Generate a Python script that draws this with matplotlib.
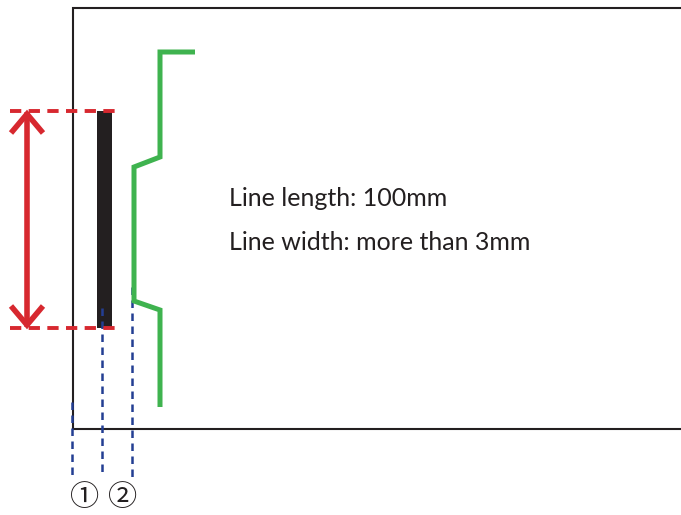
import matplotlib
matplotlib.use("Agg")
import matplotlib.pyplot as plt

# diagram geometry (pixel coordinates of the 681x515 canvas, y downwards)
frame_x = [681, 73, 73, 681]
frame_y = [8, 8, 429, 429]

bar_left, bar_right = 97, 112
bar_top, bar_bottom = 111, 328

green_x = [195, 160, 160, 134, 134, 160, 160]
green_y = [52, 52, 157, 167, 301, 310, 407]

guide_x = [72, 102, 132]
guide_top = [402, 308, 287]
guide_bottom = 477

arrow_x = 27
labels = ["Line length: 100mm", "Line width: more than 3mm"]
markers = ["①", "②"]
marker_x = [85, 123]

RED = "#d7282f"
GREEN = "#3fb34f"
BLUE = "#233e93"
BLACK = "#231f20"

fig = plt.figure(figsize=(6.81, 5.15), dpi=100)
ax = fig.add_axes([0, 0, 1, 1])
ax.set_xlim(0, 681)
ax.set_ylim(515, 0)
ax.axis("off")

# frame (top, left, bottom edges)
ax.plot(frame_x, frame_y, color="#231f20", lw=1.5, solid_joinstyle="miter")

# blue dashed guides
for gx, gt in zip(guide_x, guide_top):
    ax.plot([gx, gx], [gt, guide_bottom], color=BLUE, lw=1.8, dashes=(3.0, 2.2))

# black bar
ax.bar(bar_left, bar_bottom - bar_top, width=bar_right - bar_left,
       bottom=bar_top, align="edge", color=BLACK)

# red dashed reference lines
for ry in [bar_top, bar_bottom]:
    ax.plot([10, 115], [ry, ry], color=RED, lw=2.8, dashes=(2.9, 1.9))

# red double arrow
ax.plot([arrow_x, arrow_x], [bar_top + 4, bar_bottom - 4], color=RED, lw=4)
ax.plot([arrow_x - 16, arrow_x, arrow_x + 16], [bar_top + 22, bar_top + 3, bar_top + 22],
        color=RED, lw=4, solid_joinstyle="miter", solid_capstyle="butt")
ax.plot([arrow_x - 16, arrow_x, arrow_x + 16], [bar_bottom - 22, bar_bottom - 3, bar_bottom - 22],
        color=RED, lw=4, solid_joinstyle="miter", solid_capstyle="butt")

# green zigzag line
ax.plot(green_x, green_y, color=GREEN, lw=3.6, solid_joinstyle="miter", solid_capstyle="butt")

# labels
for i, txt in enumerate(labels):
    ax.text(229, 198 + 44 * i, txt, fontsize=18, family="Lato", color=BLACK,
            ha="left", va="center")

for mx, m in zip(marker_x, markers):
    ax.text(mx, 498, m, fontsize=21, family=["Noto Sans CJK JP", "DejaVu Sans"],
            color=BLACK, ha="center", va="center")

fig.savefig("out.png", dpi=100)
